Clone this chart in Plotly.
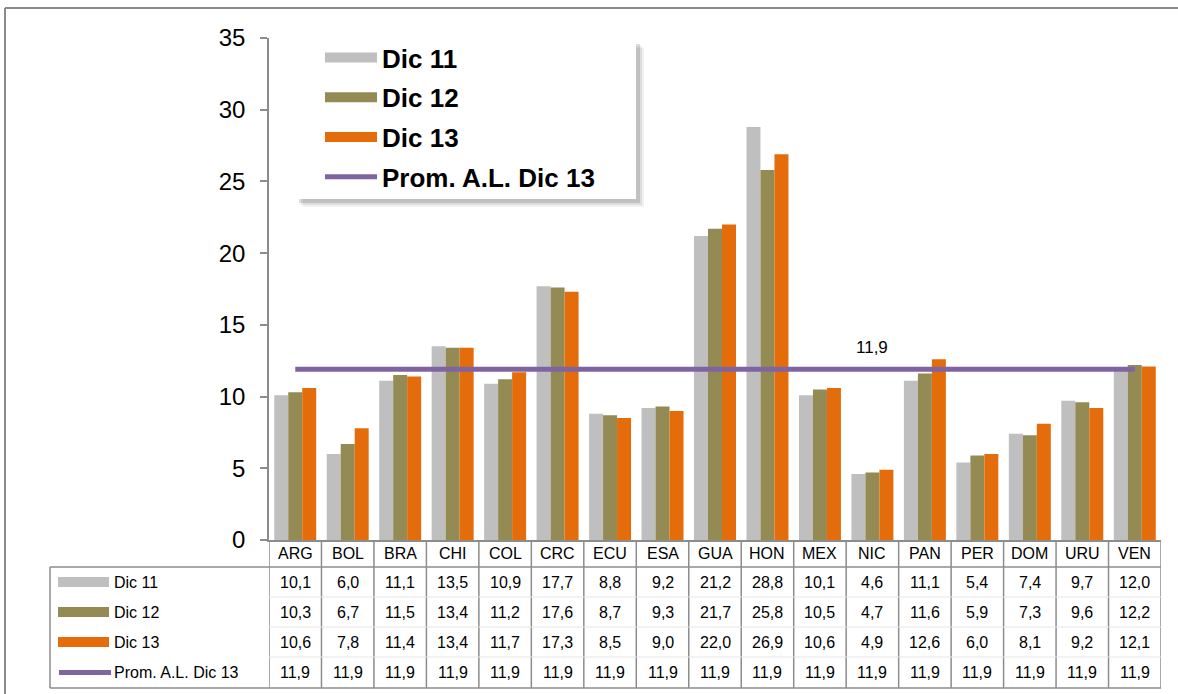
import plotly.graph_objects as go

categories = ["ARG", "BOL", "BRA", "CHI", "COL", "CRC", "ECU", "ESA", "GUA",
              "HON", "MEX", "NIC", "PAN", "PER", "DOM", "URU", "VEN"]
dic11 = [10.1, 6.0, 11.1, 13.5, 10.9, 17.7, 8.8, 9.2, 21.2, 28.8, 10.1, 4.6, 11.1, 5.4, 7.4, 9.7, 12.0]
dic12 = [10.3, 6.7, 11.5, 13.4, 11.2, 17.6, 8.7, 9.3, 21.7, 25.8, 10.5, 4.7, 11.6, 5.9, 7.3, 9.6, 12.2]
dic13 = [10.6, 7.8, 11.4, 13.4, 11.7, 17.3, 8.5, 9.0, 22.0, 26.9, 10.6, 4.9, 12.6, 6.0, 8.1, 9.2, 12.1]
prom = [11.9] * 17
series_names = ["Dic 11", "Dic 12", "Dic 13", "Prom. A.L. Dic 13"]
label_category = "NIC"

colors = ["#BFBFBF", "#948A54", "#E46C0A", "#8064A2"]
FONT = "Arial, Liberation Sans, sans-serif"

W, H = 1178, 694
ML, MR, MT, MB = 269, 17, 38, 154
PW = W - ML - MR
PH = H - MT - MB


def px(X):
    return (X - ML) / PW


def py(Y):
    return (H - MB - Y) / PH


fig = go.Figure()
series = [dic11, dic12, dic13]
for name, vals, col in zip(series_names[:3], series, colors[:3]):
    fig.add_trace(go.Bar(x=categories, y=vals, name=name, marker_color=col,
                         marker_line_width=0, showlegend=False))

fig.add_trace(go.Scatter(x=categories, y=prom, mode="lines",
                         line=dict(color=colors[3], width=5), showlegend=False))

# legend proxies
for i, name in enumerate(series_names):
    fig.add_trace(go.Scatter(x=[None], y=[None], mode="lines", name=name,
                             legendgroup=name,
                             line=dict(color=colors[i], width=14 if i < 3 else 5)))

shapes = []
annotations = []
GRID = "#8C8C8C"

# data label of the average line
li = categories.index(label_category)
annotations.append(dict(x=label_category, y=prom[li], xref="x", yref="y",
                        text=("%.1f" % prom[li]).replace(".", ","), showarrow=False,
                        xanchor="center", yanchor="middle", yshift=22,
                        font=dict(size=17, color="black", family=FONT)))

# outer chart border (cropped)
shapes.append(dict(type="line", xref="paper", yref="paper", x0=px(5), x1=px(W + 10),
                   y0=py(8), y1=py(8), line=dict(color="#8A8A8A", width=2)))
shapes.append(dict(type="line", xref="paper", yref="paper", x0=px(5), x1=px(5),
                   y0=py(8), y1=py(H + 10), line=dict(color="#8A8A8A", width=2)))

# legend box with shadow
for off, op in [(8, 0.08), (6, 0.12), (4, 0.2)]:
    shapes.append(dict(type="rect", xref="paper", yref="paper",
                       x0=px(295 + off), x1=px(636 + off), y0=py(199 + off), y1=py(40 + off),
                       fillcolor="rgba(80,80,80,%s)" % op, line=dict(width=0), layer="above"))
shapes.append(dict(type="rect", xref="paper", yref="paper",
                   x0=px(292), x1=px(636), y0=py(199), y1=py(38),
                   fillcolor="white", line=dict(width=0), layer="above"))

# table geometry (pixels)
header_top, header_bot = 540, 567
row_edges = [567, 597, 627, 657, 688]
table_left = 50

shapes.append(dict(type="line", xref="paper", yref="paper", x0=px(262), x1=0,
                   y0=0, y1=0, line=dict(color=GRID, width=1.5)))

for i in range(len(categories) + 1):
    shapes.append(dict(type="line", xref="x", yref="paper", x0=i - 0.5, x1=i - 0.5,
                       y0=py(header_top), y1=py(row_edges[-1]),
                       line=dict(color=GRID, width=1.5)))
shapes.append(dict(type="line", xref="paper", yref="paper", x0=px(table_left), x1=1,
                   y0=py(header_bot), y1=py(header_bot), line=dict(color=GRID, width=1.5)))
shapes.append(dict(type="line", xref="paper", yref="paper", x0=px(table_left), x1=1,
                   y0=py(row_edges[-1]), y1=py(row_edges[-1]), line=dict(color=GRID, width=1.5)))
for e in row_edges[1:-1]:
    shapes.append(dict(type="line", xref="paper", yref="paper", x0=0, x1=1,
                       y0=py(e), y1=py(e), line=dict(color="#E6E6E6", width=1)))
shapes.append(dict(type="line", xref="paper", yref="paper", x0=px(table_left), x1=px(table_left),
                   y0=py(header_bot), y1=py(row_edges[-1]), line=dict(color=GRID, width=1.5)))

for c in categories:
    annotations.append(dict(x=c, y=py((header_top + header_bot) / 2), xref="x", yref="paper",
                            xanchor="center", yanchor="middle",
                            text=c, showarrow=False, font=dict(size=16, color="black", family=FONT)))

all_rows = [dic11, dic12, dic13, prom]
for r, (name, vals) in enumerate(zip(series_names, all_rows)):
    yc = (row_edges[r] + row_edges[r + 1]) / 2
    for c, v in zip(categories, vals):
        annotations.append(dict(x=c, y=py(yc), xref="x", yref="paper",
                                xanchor="center", yanchor="middle",
                                text=("%.1f" % v).replace(".", ","), showarrow=False,
                                font=dict(size=16, color="black", family=FONT)))
    annotations.append(dict(x=px(112), y=py(yc), xref="paper", yref="paper",
                            xanchor="left", yanchor="middle",
                            text=name, showarrow=False,
                            font=dict(size=16, color="black", family=FONT)))
    if r < 3:
        shapes.append(dict(type="rect", xref="paper", yref="paper", x0=px(58), x1=px(109),
                           y0=py(yc + 5), y1=py(yc - 5), fillcolor=colors[r], line=dict(width=0)))
    else:
        shapes.append(dict(type="line", xref="paper", yref="paper", x0=px(59), x1=px(111),
                           y0=py(yc), y1=py(yc), line=dict(color=colors[r], width=5)))

fig.update_layout(
    width=W, height=H,
    margin=dict(l=ML, r=MR, t=MT, b=MB),
    paper_bgcolor="white", plot_bgcolor="white",
    barmode="group", bargap=0.2, bargroupgap=0,
    font=dict(family=FONT, color="black"),
    shapes=shapes, annotations=annotations,
    legend=dict(x=px(320), y=py(34), xanchor="left", yanchor="top",
                bgcolor="rgba(0,0,0,0)", borderwidth=0,
                font=dict(size=26, color="black", family=FONT, weight="bold"),
                itemwidth=52, tracegroupgap=3, traceorder="grouped"),
    xaxis=dict(type="category", range=[-0.5, len(categories) - 0.5], showticklabels=False,
               showline=True, linecolor=GRID, linewidth=1.5, ticks="", showgrid=False,
               zeroline=False, fixedrange=True),
    yaxis=dict(range=[0, 35], dtick=5, showline=True, linecolor=GRID, linewidth=1.5,
               ticks="outside", ticklen=7, tickcolor=GRID, tickwidth=1.5,
               ticklabelstandoff=10,
               tickfont=dict(size=24, color="black", family=FONT),
               showgrid=False, zeroline=False),
)

fig.write_html("out.html", config={"displayModeBar": False},
               post_script="document.body.style.margin='0px';")
